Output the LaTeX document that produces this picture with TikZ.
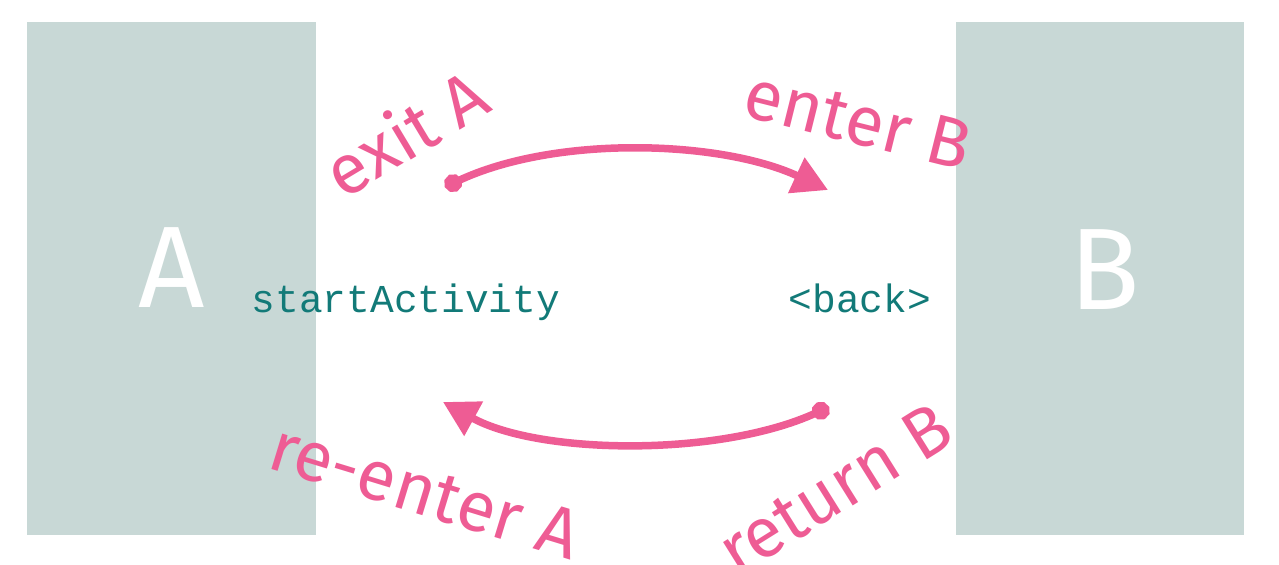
\documentclass[tikz,border=0pt]{standalone}
\usepackage{fontspec}
\setmainfont{Fira Sans}
\setmonofont{Liberation Mono}
\usetikzlibrary{arrows.meta}

\definecolor{actgray}{RGB}{200,216,214}
\definecolor{penpink}{RGB}{238,92,148}
\definecolor{codeteal}{RGB}{18,122,120}

\begin{document}
\begin{tikzpicture}[x=0.02cm, y=-0.02cm,
        activity/.style={fill=actgray, minimum width=5.78cm, minimum height=10.26cm, inner sep=0pt},
        letter/.style={text=white, font=\fontsize{66}{66}\selectfont},
        pen/.style={text=penpink, font=\fontsize{40}{40}\selectfont, inner sep=0pt},
        code/.style={text=codeteal, anchor=base, font=\ttfamily\fontsize{22.5}{27}\selectfont},
        stroke/.style={draw=penpink, line width=1.5mm, line cap=round,
            {Circle[length=3.6mm]}-{Triangle[length=7mm, width=7.5mm]}}]
    \useasboundingbox (0,0) rectangle (1279,565);

    % Activities
    \node[activity] (actA) at (171.5, 278.5) {};
    \node[activity] (actB) at (1100, 278.5) {};
    \node[letter] (lblA) at (172, 268) {A};
    \node[letter] (lblB) at (1105, 270) {B};

    % Calls
    \node[code] (start) at (406, 312) {startActivity};
    \node[code] (back) at (860, 312) {<back>};

    % Transitions
    \coordinate (fwdFrom) at (445, 187);
    \coordinate (fwdTo) at (828, 190);
    \coordinate (bwdFrom) at (829, 407);
    \coordinate (bwdTo) at (443, 402);
    \draw[stroke] (fwdFrom) .. controls (555, 135) and (720, 140) .. (fwdTo);
    \draw[stroke] (bwdFrom) .. controls (720, 457) and (540, 455) .. (bwdTo);

    % Callbacks
    \node[pen, rotate=31] (exitA) at (405, 132) {exit A};
    \node[pen, rotate=-14] (enterB) at (858, 120) {enter B};
    \node[pen, rotate=-17] (reenterA) at (425, 491) {re-enter A};
    \node[pen, rotate=32] (returnB) at (835, 489) {return B};
\end{tikzpicture}
\end{document}
